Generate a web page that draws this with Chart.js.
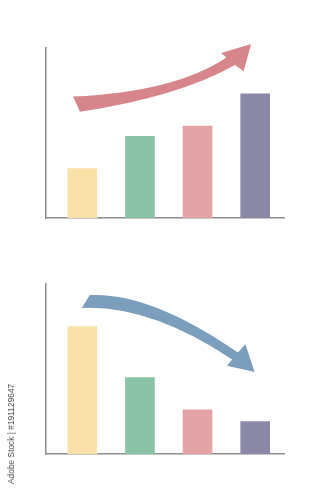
<!DOCTYPE html>
<html>
<head>
<meta charset="utf-8">
<script src="https://cdn.jsdelivr.net/npm/chart.js@4/dist/chart.umd.min.js"></script>
<style>
  html, body { margin: 0; padding: 0; background: #fff; }
  #page { position: relative; width: 334px; height: 500px; overflow: hidden; }
  .box { position: absolute; left: 0; width: 334px; height: 250px; }
  #stamp {
    position: absolute; left: 11px; top: 434px;
    transform: translate(-50%, -50%) rotate(-90deg);
    white-space: nowrap;
    font: 8.4px "Liberation Sans", Arial, sans-serif;
    color: #4a4a4a;
  }
</style>
</head>
<body>
<div id="page">
  <div class="box" style="top:0"><canvas id="up"></canvas></div>
  <div class="box" style="top:250px"><canvas id="down"></canvas></div>
  <div id="stamp">Adobe Stock | #191129647</div>
</div>
<script>
// bar positions (category index) and heights, value axis 0..100
const slots = [1, 2, 3, 4];
const risingValues = [29, 48, 54, 73];
const fallingValues = [75, 45, 26, 19];
const barColors = ['#f9dfa8', '#89c3a7', '#e3a2a3', '#8b87a7'];

// trend arrows, outlined in data units: [x, y]
const risingArrow = {
  tailTop: [0.84, 71.4], topCtrl: [2.61, 74.1], topEnd: [3.50, 94.4],
  headA: [3.41, 97.1], tip: [3.93, 102.4], headB: [3.80, 86.3],
  lowEnd: [3.65, 90.0], lowCtrl: [2.66, 71.2], tailLow: [0.96, 62.5]
};
const fallingArrow = {
  tailTop: [1.13, 93.5], topCtrl: [2.18, 95.3], topEnd: [3.70, 59.7],
  headA: [3.83, 64.5], tip: [3.99, 48.2], headB: [3.51, 51.9],
  lowEnd: [3.60, 55.6], lowCtrl: [2.18, 87.7], tailLow: [0.99, 85.9]
};

const arrowPlugin = {
  id: 'trendArrow',
  afterDatasetsDraw(chart, args, opts) {
    const a = opts.shape;
    if (!a) return;
    const xs = chart.scales.x, ys = chart.scales.y;
    const p = (pt) => [xs.getPixelForValue(pt[0]), ys.getPixelForValue(pt[1])];
    const ctx = chart.ctx;
    ctx.save();
    ctx.fillStyle = opts.color;
    ctx.beginPath();
    ctx.moveTo(...p(a.tailTop));
    ctx.quadraticCurveTo(...p(a.topCtrl), ...p(a.topEnd));
    ctx.lineTo(...p(a.headA));
    ctx.lineTo(...p(a.tip));
    ctx.lineTo(...p(a.headB));
    ctx.lineTo(...p(a.lowEnd));
    ctx.quadraticCurveTo(...p(a.lowCtrl), ...p(a.tailLow));
    ctx.closePath();
    ctx.fill();
    ctx.restore();
  }
};

function makeChart(id, values, arrow, arrowColor, pad) {
  const ctx = document.getElementById(id).getContext('2d');
  return new Chart(ctx, {
    type: 'bar',
    data: {
      datasets: [{
        data: slots.map((s, i) => ({ x: s, y: values[i] })),
        backgroundColor: barColors,
        barThickness: 29,
        borderWidth: 0
      }]
    },
    options: {
      responsive: true,
      maintainAspectRatio: false,
      animation: false,
      layout: { padding: pad },
      scales: {
        x: {
          type: 'linear', min: 0.37, max: 4.5, offset: false,
          grid: { display: false, drawTicks: false },
          ticks: { display: false },
          border: { color: '#8c8c8c', width: 1.5 }
        },
        y: {
          min: 0, max: 100,
          grid: { display: false, drawTicks: false },
          ticks: { display: false },
          border: { color: '#8c8c8c', width: 1.5 }
        }
      },
      plugins: {
        legend: { display: false },
        tooltip: { enabled: false },
        trendArrow: { shape: arrow, color: arrowColor }
      }
    },
    plugins: [arrowPlugin]
  });
}

makeChart('up', risingValues, risingArrow, '#d6868b', { left: 46, right: 50, top: 48, bottom: 32 });
makeChart('down', fallingValues, fallingArrow, '#7b9ebd', { left: 46, right: 50, top: 34, bottom: 46 });
</script>
</body>
</html>
